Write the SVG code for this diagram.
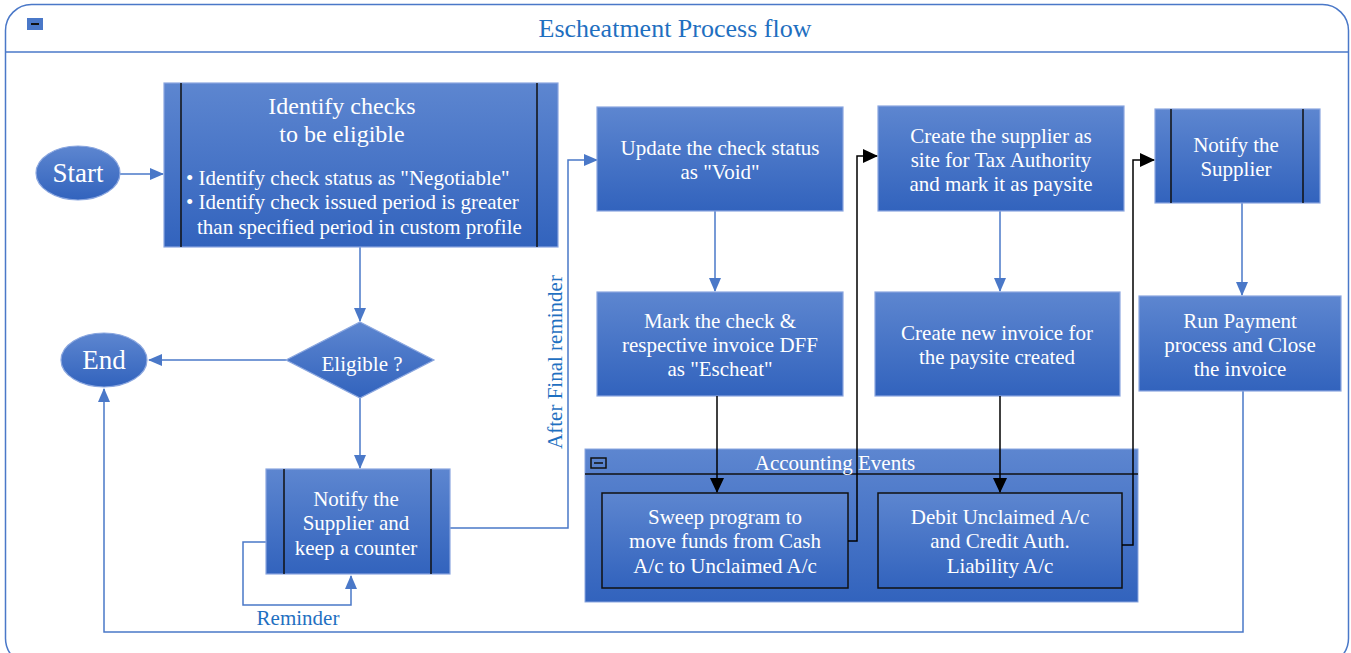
<svg xmlns="http://www.w3.org/2000/svg" width="1351" height="653" viewBox="0 0 1351 653">
<defs>
<linearGradient id="g" x1="0" y1="0" x2="0" y2="1">
<stop offset="0" stop-color="#5d86d0"/>
<stop offset="1" stop-color="#3263bd"/>
</linearGradient>
<marker id="ab" markerWidth="14" markerHeight="12" refX="13" refY="6" orient="auto" markerUnits="userSpaceOnUse">
<path d="M0,0 L14,6 L0,12 Z" fill="#4a78c8"/>
</marker>
<marker id="ak" markerWidth="15" markerHeight="14" refX="14" refY="7" orient="auto" markerUnits="userSpaceOnUse">
<path d="M0,0 L15,7 L0,14 Z" fill="#000"/>
</marker>
</defs>
<style>
.n{fill:url(#g);stroke:#8aa6df;stroke-width:1.2}
.nk{fill:url(#g);stroke:#111;stroke-width:1.5}
.bar{stroke:#111;stroke-width:1.5}
.t{font-family:"Liberation Serif",serif;fill:#fff;font-size:21px;text-anchor:middle}
.tl{font-family:"Liberation Serif",serif;fill:#fff;font-size:21px;text-anchor:start}
.big{font-size:24px}
.huge{font-size:27px}
.c{fill:none;stroke:#4a78c8;stroke-width:1.5}
.ck{fill:none;stroke:#000;stroke-width:1.5}
.lbl{font-family:"Liberation Serif",serif;fill:#1f70c1;font-size:21px;text-anchor:middle}
.title{font-family:"Liberation Serif",serif;fill:#1f6fc0;font-size:26px;text-anchor:middle}
</style>
<g id="frame">
<rect x="5.5" y="4.5" width="1343" height="660" rx="26" fill="#fff" stroke="#4a78c8" stroke-width="1.5"/>
<line x1="6" y1="52" x2="1348" y2="52" stroke="#4a78c8" stroke-width="1.5"/>
<rect x="27" y="18" width="16" height="12" fill="#4a78c8"/>
<line x1="31" y1="24" x2="39" y2="24" stroke="#111" stroke-width="2"/>
<text class="title" x="675" y="37">Escheatment Process flow</text>
</g>
<g id="connectors">
<line class="c" x1="120" y1="174" x2="163" y2="174" marker-end="url(#ab)"/>
<line class="c" x1="360" y1="247" x2="360" y2="321" marker-end="url(#ab)"/>
<line class="c" x1="286" y1="360" x2="149" y2="360" marker-end="url(#ab)"/>
<line class="c" x1="360" y1="398" x2="360" y2="468" marker-end="url(#ab)"/>
<polyline class="c" points="266,542 243,542 243,605 351,605 351,576" marker-end="url(#ab)"/>
<polyline class="c" points="450,528 568,528 568,160 597,160" marker-end="url(#ab)"/>
<polyline class="c" points="1243,391 1243,632 104,632 104,389" marker-end="url(#ab)"/>
<line class="c" x1="715" y1="211" x2="715" y2="291" marker-end="url(#ab)"/>
<line class="c" x1="1000" y1="211" x2="1000" y2="291" marker-end="url(#ab)"/>
<line class="c" x1="1242" y1="203" x2="1242" y2="295" marker-end="url(#ab)"/>
<text class="lbl" x="298" y="625">Reminder</text>
<text class="lbl" x="0" y="0" transform="translate(562,362) rotate(-90)">After Final reminder</text>
</g>
<g id="start">
<ellipse cx="78" cy="173" rx="42" ry="27" class="n"/>
<text class="t huge" x="78" y="182">Start</text>
</g>
<g id="identify">
<rect x="164" y="83" width="394" height="164" class="n"/>
<line class="bar" x1="181" y1="83" x2="181" y2="247"/>
<line class="bar" x1="537" y1="83" x2="537" y2="247"/>
<text class="t big" x="342" y="114">Identify checks</text>
<text class="t big" x="342" y="142">to be eligible</text>
<text class="tl" x="186" y="185">• Identify check status as "Negotiable"</text>
<text class="tl" x="186" y="209">• Identify check issued period is greater</text>
<text class="tl" x="197" y="234">than specified period in custom profile</text>
</g>
<g id="eligible">
<polygon points="360,322 434,360 360,398 286,360" class="n"/>
<text class="t" x="362" y="371">Eligible ?</text>
</g>
<g id="end">
<ellipse cx="104" cy="360" rx="43" ry="27" class="n"/>
<text class="t huge" x="104" y="369">End</text>
</g>
<g id="notify1">
<rect x="266" y="469" width="184" height="105" class="n"/>
<line class="bar" x1="284" y1="469" x2="284" y2="574"/>
<line class="bar" x1="431" y1="469" x2="431" y2="574"/>
<text class="t" x="356" y="506">Notify the</text>
<text class="t" x="356" y="530">Supplier and</text>
<text class="t" x="356" y="555">keep a counter</text>
</g>
<g id="update">
<rect x="597" y="107" width="246" height="104" class="n"/>
<text class="t" x="720" y="155">Update the check status</text>
<text class="t" x="720" y="179">as "Void"</text>
</g>
<g id="mark">
<rect x="597" y="292" width="246" height="104" class="n"/>
<text class="t" x="720" y="328">Mark the check &amp;</text>
<text class="t" x="720" y="352">respective invoice DFF</text>
<text class="t" x="720" y="376">as "Escheat"</text>
</g>
<g id="accounting">
<rect x="585" y="449" width="553" height="153" fill="url(#g)" stroke="#8aa6df" stroke-width="1"/>
<line x1="585" y1="474" x2="1138" y2="474" stroke="#111" stroke-width="1.5"/>
<rect x="591" y="458" width="15" height="10" fill="none" stroke="#111" stroke-width="1.5"/>
<line x1="594" y1="463" x2="603" y2="463" stroke="#111" stroke-width="1.5"/>
<text class="t" x="835" y="470">Accounting Events</text>
</g>
<g id="sweep">
<rect x="602" y="493" width="246" height="95" class="nk"/>
<text class="t" x="725" y="524">Sweep program to</text>
<text class="t" x="725" y="548">move funds from Cash</text>
<text class="t" x="725" y="573">A/c to Unclaimed A/c</text>
</g>
<g id="debit">
<rect x="878" y="493" width="244" height="95" class="nk"/>
<text class="t" x="1000" y="524">Debit Unclaimed A/c</text>
<text class="t" x="1000" y="548">and Credit Auth.</text>
<text class="t" x="1000" y="573">Liability A/c</text>
</g>
<g id="create-supplier">
<rect x="878" y="106" width="246" height="105" class="n"/>
<text class="t" x="1001" y="143">Create the supplier as</text>
<text class="t" x="1001" y="167">site for Tax Authority</text>
<text class="t" x="1001" y="191">and mark it as paysite</text>
</g>
<g id="create-invoice">
<rect x="875" y="292" width="245" height="104" class="n"/>
<text class="t" x="997" y="340">Create new invoice for</text>
<text class="t" x="997" y="364">the paysite created</text>
</g>
<g id="notify2">
<rect x="1155" y="109" width="165" height="94" class="n"/>
<line class="bar" x1="1171" y1="109" x2="1171" y2="203"/>
<line class="bar" x1="1303" y1="109" x2="1303" y2="203"/>
<text class="t" x="1236" y="152">Notify the</text>
<text class="t" x="1236" y="176">Supplier</text>
</g>
<g id="run-payment">
<rect x="1139" y="296" width="202" height="95" class="n"/>
<text class="t" x="1240" y="328">Run Payment</text>
<text class="t" x="1240" y="352">process and Close</text>
<text class="t" x="1240" y="376">the invoice</text>
</g>
<g id="connectors-black">
<line class="ck" x1="717" y1="396" x2="717" y2="492" marker-end="url(#ak)"/>
<line class="ck" x1="1000" y1="396" x2="1000" y2="492" marker-end="url(#ak)"/>
<polyline class="ck" points="848,541 857,541 857,156 877,156" marker-end="url(#ak)"/>
<polyline class="ck" points="1122,545 1133,545 1133,160 1154,160" marker-end="url(#ak)"/>
</g>
</svg>
